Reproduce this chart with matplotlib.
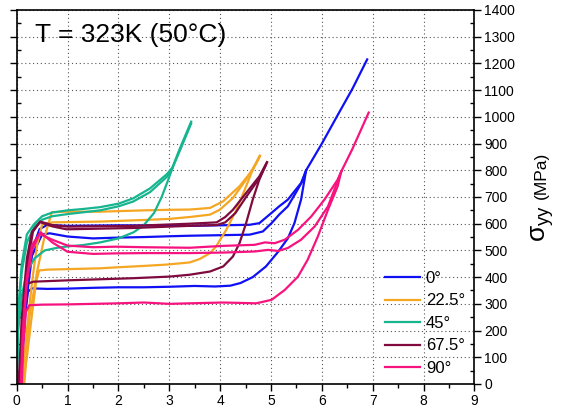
import matplotlib
matplotlib.use("Agg")
import matplotlib.pyplot as plt
from matplotlib.ticker import MultipleLocator

plt.rcParams['font.family'] = ['Liberation Sans', 'DejaVu Sans']

# 0 deg
x_0a = [0.08, 0.12, 0.17, 0.22, 0.3, 0.6, 1.0, 1.5, 2.0, 2.5, 3.0, 3.5, 3.9, 4.2, 4.4, 4.64, 4.9, 5.14, 5.33, 5.46, 5.59, 5.69]
y_0a = [0, 120, 260, 345, 358, 356, 357, 360, 362, 362, 364, 367, 365, 368, 378, 400, 440, 495, 545, 602, 690, 800]
x_0b = [0.06, 0.15, 0.3, 0.5, 0.65, 1.0, 1.5, 2.0, 2.5, 3.0, 3.4, 4.0, 4.58, 4.84, 5.01, 5.16, 5.33, 5.5, 5.62, 5.69]
y_0b = [0, 250, 480, 560, 564, 552, 545, 548, 550, 553, 555, 557, 559, 571, 602, 634, 665, 720, 760, 800]
x_0c = [0.05, 0.15, 0.3, 0.45, 0.6, 1.0, 2.0, 3.0, 3.4, 4.0, 4.58, 4.77, 4.97, 5.16, 5.33, 5.59, 5.69, 6.0, 6.3, 6.6, 6.89]
y_0c = [0, 300, 500, 580, 595, 592, 594, 593, 592, 594, 596, 602, 634, 665, 690, 752, 800, 900, 1003, 1105, 1215]

# 22.5 deg
x_22a = [0.12, 0.2, 0.3, 0.38, 0.44, 0.6, 1.0, 1.64, 2.0, 2.5, 2.95, 3.4, 3.6, 3.8, 3.92, 4.12, 4.32, 4.51, 4.64, 4.77]
y_22a = [0, 100, 260, 380, 425, 428, 430, 433, 437, 442, 447, 455, 468, 490, 515, 577, 652, 740, 802, 850]
x_22b = [0.1, 0.2, 0.3, 0.4, 0.5, 0.7, 1.0, 1.64, 2.5, 3.0, 3.4, 3.8, 3.99, 4.25, 4.51, 4.71, 4.78]
y_22b = [0, 200, 380, 520, 598, 605, 606, 608, 614, 618, 625, 634, 652, 696, 765, 827, 852]
x_22c = [0.15, 0.25, 0.4, 0.54, 0.69, 1.0, 1.64, 2.5, 3.0, 3.4, 3.8, 4.06, 4.38, 4.64, 4.78]
y_22c = [0, 250, 420, 545, 643, 645, 645, 650, 652, 653, 659, 684, 740, 802, 855]

# 45 deg
x_45a = [0.0, 0.03, 0.1, 0.2, 0.35, 0.55, 0.8, 1.0, 1.3, 1.64, 2.0, 2.3, 2.5, 2.7, 2.85, 2.97, 3.06]
y_45a = [0, 200, 330, 420, 470, 500, 510, 515, 520, 530, 545, 568, 595, 640, 700, 760, 807]
x_45b = [0.0, 0.03, 0.1, 0.2, 0.35, 0.5, 0.7, 1.0, 1.64, 2.0, 2.29, 2.62, 2.95, 3.06, 3.2, 3.43]
y_45b = [0, 250, 420, 530, 590, 615, 628, 636, 650, 665, 683, 718, 775, 807, 870, 975]
x_45c = [0.0, 0.03, 0.1, 0.2, 0.34, 0.5, 0.7, 1.0, 1.3, 1.64, 2.0, 2.29, 2.62, 2.95, 3.06, 3.2, 3.43]
y_45c = [0, 280, 450, 560, 598, 628, 642, 650, 655, 662, 675, 695, 732, 785, 810, 878, 982]

# 67.5 deg
x_67a = [0.05, 0.1, 0.15, 0.2, 0.33, 1.0, 1.64, 2.29, 3.0, 3.4, 3.8, 4.06, 4.25, 4.38, 4.51, 4.64, 4.77, 4.92]
y_67a = [0, 150, 300, 375, 383, 388, 392, 396, 402, 409, 421, 440, 477, 527, 602, 690, 765, 830]
x_67b = [0.04, 0.1, 0.2, 0.3, 0.46, 0.7, 0.98, 2.29, 3.4, 3.93, 4.1, 4.3, 4.51, 4.77, 4.9]
y_67b = [0, 250, 470, 570, 606, 590, 579, 584, 592, 595, 605, 640, 700, 770, 820]
x_67c = [0.05, 0.12, 0.22, 0.32, 0.46, 0.7, 1.0, 2.3, 3.4, 3.93, 4.1, 4.25, 4.51, 4.77, 4.92]
y_67c = [0, 250, 460, 570, 608, 595, 589, 592, 600, 605, 625, 652, 715, 777, 830]

# 90 deg
x_90a = [0.1, 0.13, 0.18, 0.25, 0.5, 1.0, 1.5, 2.0, 2.5, 3.0, 3.4, 4.06, 4.71, 5.01, 5.27, 5.53, 5.72, 5.92, 6.12, 6.31, 6.38]
y_90a = [0, 150, 270, 295, 297, 298, 300, 302, 305, 300, 302, 305, 302, 315, 352, 402, 465, 552, 652, 740, 795]
x_90b = [0.08, 0.12, 0.2, 0.3, 0.47, 0.7, 1.0, 1.5, 1.96, 2.5, 3.4, 4.06, 4.68, 4.94, 5.14, 5.33, 5.59, 5.86, 6.12, 6.38, 6.6, 6.92]
y_90b = [0, 200, 400, 520, 568, 530, 495, 487, 489, 490, 490, 492, 496, 502, 498, 509, 540, 590, 665, 795, 880, 1016]
x_90c = [0.09, 0.13, 0.2, 0.3, 0.45, 0.7, 1.0, 1.5, 1.96, 2.5, 3.4, 4.06, 4.68, 4.88, 5.07, 5.27, 5.53, 5.79, 6.05, 6.31, 6.38]
y_90c = [0, 200, 380, 500, 562, 540, 518, 512, 514, 512, 510, 517, 521, 530, 527, 540, 577, 627, 690, 765, 795]

labels = ['0°', '22.5°', '45°', '67.5°', '90°']
colors = ['#1010F5', '#F5A623', '#16B58F', '#7E0A3E', '#F7137F']

groups = [
    [(x_0a, y_0a), (x_0b, y_0b), (x_0c, y_0c)],
    [(x_22a, y_22a), (x_22b, y_22b), (x_22c, y_22c)],
    [(x_45a, y_45a), (x_45b, y_45b), (x_45c, y_45c)],
    [(x_67a, y_67a), (x_67b, y_67b), (x_67c, y_67c)],
    [(x_90a, y_90a), (x_90b, y_90b), (x_90c, y_90c)],
]

fig = plt.figure(figsize=(5.62, 4.11), dpi=100)
ax = fig.add_axes([0.0297, 0.0657, 0.8146, 0.91])

for lab, c, curves in zip(labels, colors, groups):
    for i, (xs, ys) in enumerate(curves):
        ax.plot(xs, ys, color=c, lw=1.6, label=lab if i == 0 else None,
                solid_joinstyle='round')

ax.set_xlim(0, 9)
ax.set_ylim(0, 1400)
ax.xaxis.set_major_locator(MultipleLocator(1))
ax.xaxis.set_minor_locator(MultipleLocator(0.5))
ax.yaxis.set_major_locator(MultipleLocator(100))
ax.yaxis.set_minor_locator(MultipleLocator(50))
ax.yaxis.tick_right()
ax.tick_params(axis='both', which='major', direction='out', length=5, width=1,
               labelsize=10, pad=2)
ax.tick_params(axis='both', which='minor', direction='out', length=3, width=1)
ax.tick_params(axis='y', which='both', left=True, direction='in')
ax.tick_params(axis='y', which='both', right=True, labelright=True)
ax.tick_params(axis='y', which='major', direction='out')
for s in ax.spines.values():
    s.set_linewidth(1.2)

ax.grid(True, which='major', color='#555555', linestyle=(0, (1, 2.5)), lw=0.8)
ax.set_axisbelow(True)

ax.text(0.36, 1306, 'T = 323K (50°C)', fontsize=19, va='center', ha='left')

ax.legend(loc='upper left', bbox_to_anchor=(0.79, 0.32), frameon=False,
          fontsize=12, handlelength=2.1, handletextpad=0.35, labelspacing=0.45,
          borderaxespad=0)

fig.text(0.965, 0.455, r'$\mathregular{σ_{yy}}$', rotation=90, fontsize=19,
         ha='center', va='center')
fig.text(0.963, 0.574, '(MPa)', rotation=90, fontsize=12.5, ha='center', va='center')

fig.savefig('out.png', dpi=100)
